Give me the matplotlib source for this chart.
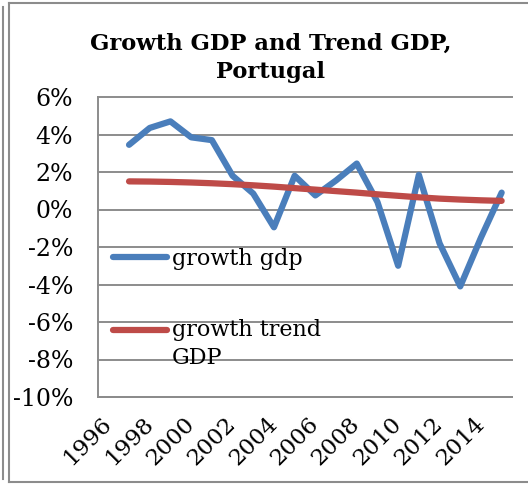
import matplotlib
matplotlib.use("Agg")
import matplotlib.pyplot as plt
import matplotlib.transforms as mtransforms
from matplotlib.lines import Line2D
from matplotlib.ticker import FuncFormatter

# data (percent)
years = list(range(1997, 2016))
growth_gdp = [3.45, 4.35, 4.7, 3.85, 3.7, 1.8, 0.85, -0.95, 1.8, 0.75,
              1.55, 2.45, 0.4, -3.0, 1.85, -1.8, -4.1, -1.5, 0.9]
trend_gdp = [1.50, 1.49, 1.47, 1.44, 1.40, 1.35, 1.29, 1.22, 1.14, 1.06,
             0.98, 0.90, 0.81, 0.73, 0.65, 0.58, 0.53, 0.49, 0.46]
tick_years = list(range(1996, 2015, 2))
y_ticks = list(range(-10, 7, 2))

title = "Growth GDP and Trend GDP,\nPortugal"
FONT = "DejaVu Serif"
W, H = 528, 484

plt.rcParams['font.family'] = [FONT]
plt.rcParams['axes.unicode_minus'] = False

fig = plt.figure(figsize=(W / 100, H / 100), dpi=100)
ax = fig.add_axes([98 / W, 1 - 397 / H, 414 / W, 300 / H])

blue = '#4A7EBB'
red = '#BE4B48'
ax.plot(years, growth_gdp, color=blue, lw=4.5, solid_capstyle='round',
        solid_joinstyle='round', label='growth gdp')
ax.plot(years, trend_gdp, color=red, lw=4.5, solid_capstyle='round',
        solid_joinstyle='round', label='growth trend\nGDP')

ax.set_xlim(1995.5, 2015.5)
ax.set_ylim(-10, 6)
ax.set_yticks(y_ticks)
ax.set_xticks(tick_years)
ax.yaxis.set_major_formatter(FuncFormatter(lambda v, p: f"{v:.0f}%"))
ax.grid(axis='y', color='#8C8C8C', lw=1.4, clip_on=False)
ax.set_axisbelow(True)
for s in ['top', 'right']:
    ax.spines[s].set_visible(False)
for s in ['left', 'bottom']:
    ax.spines[s].set_color('#8C8C8C')
    ax.spines[s].set_linewidth(1.4)

ax.tick_params(axis='y', length=0, pad=18, labelsize=17)
ax.tick_params(axis='x', length=0, pad=17, labelsize=16.5)
plt.setp(ax.get_xticklabels(), rotation=45, ha='right', va='center',
         rotation_mode='anchor')

leg = ax.legend(loc='upper left', bbox_to_anchor=(113 / W, 1 - 248 / H),
                bbox_transform=fig.transFigure, frameon=False, fontsize=16,
                handlelength=2.45, handletextpad=0.2, labelspacing=2.2,
                borderpad=0, borderaxespad=0)
for t in leg.get_texts():
    t.set_linespacing(1.35)
# Excel aligns the handle with the first line of a wrapped label
leg.legend_handles[1].set_transform(
    leg.legend_handles[1].get_transform() + mtransforms.Affine2D().translate(0, 15))

fig.text(271 / W, 1 - 58 / H, title, ha='center', va='center', fontsize=16.3,
         fontweight='bold', linespacing=1.35)

# chart frame
def vline(x, y0, y1, c='#8C8C8C'):
    fig.add_artist(Line2D([x / W, x / W], [1 - y0 / H, 1 - y1 / H], color=c, lw=1.5,
                          transform=fig.transFigure))

def hline(y, x0, x1, c='#8C8C8C'):
    fig.add_artist(Line2D([x0 / W, x1 / W], [1 - y / H, 1 - y / H], color=c, lw=1.5,
                          transform=fig.transFigure))

vline(2.5, 7, 479)
vline(8.5, 2.5, 481.5)
hline(2.5, 8.5, 528)
hline(481.5, 8.5, 528)

fig.savefig('out.png', dpi=100)
